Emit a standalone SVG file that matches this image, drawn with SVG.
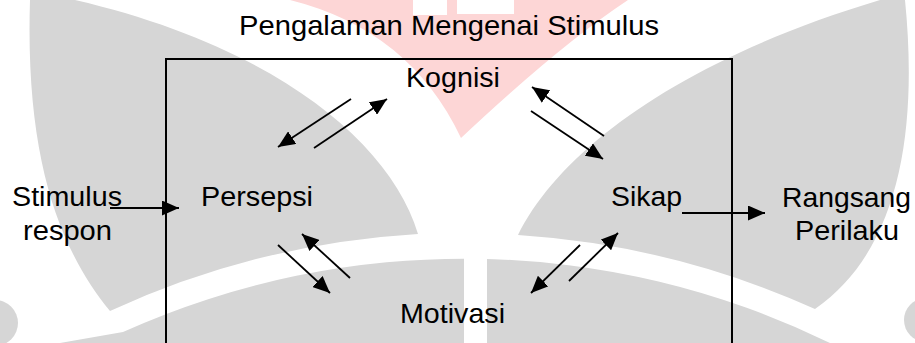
<svg xmlns="http://www.w3.org/2000/svg" width="915" height="343" viewBox="0 0 915 343">
  <defs>
    <style>
      .wm-gray { fill: #d6d6d6; }
      .wm-pink { fill: #fdd6d6; }
      .wm-white { fill: #ffffff; }
      text { font-family: "Liberation Sans", Arial, sans-serif; font-size: 27.5px; fill: #000; }
      .frame { fill: none; stroke: #000; stroke-width: 2; }
      .conn { fill: none; stroke: #000; stroke-width: 1.8; marker-end: url(#arrow); }
    </style>
    <marker id="arrow" markerUnits="userSpaceOnUse" markerWidth="18" markerHeight="15" refX="17" refY="7.5" orient="auto">
      <path d="M0,0 L17,7.5 L0,15 Z" fill="#000"/>
    </marker>
  </defs>

  <rect width="915" height="343" fill="#fff"/>

  <!-- background logo shapes -->
  <g id="watermark">
    <path class="wm-gray" d="M30,0 L75,0 C270,45 390,140 418,234 A858,858 0 0 0 110,311 C60,250 25,160 30,0 Z"/>
    <path class="wm-gray" d="M518,235 C560,150 680,60 880,0 L905,0 C918,130 900,250 815,309 A858,858 0 0 0 518,235 Z"/>
    <path class="wm-gray" d="M60,343 L123,332 A833,833 0 0 1 830,343 Z"/>
    <rect class="wm-white" x="464" y="250" width="23" height="93"/>
    <path class="wm-pink" d="M290,0 L628,0 Q560,45 461,138 Q410,30 290,0 Z"/>
    <rect class="wm-white" x="413" y="0" width="34" height="15"/>
    <rect class="wm-white" x="457" y="0" width="57" height="14"/>
    <circle class="wm-gray" cx="-5" cy="323" r="23"/>
    <circle class="wm-gray" cx="926" cy="320" r="22"/>
  </g>

  <g id="title">
    <text x="239" y="35" textLength="420" lengthAdjust="spacingAndGlyphs">Pengalaman Mengenai Stimulus</text>
  </g>

  <g id="frame">
    <path class="frame" d="M166,346 V59 H732 V346"/>
  </g>

  <g id="kognisi">
    <text x="406" y="87" textLength="94" lengthAdjust="spacingAndGlyphs">Kognisi</text>
  </g>
  <g id="stimulus-respon">
    <text x="12" y="206" textLength="110" lengthAdjust="spacingAndGlyphs">Stimulus</text>
    <text x="23" y="240" textLength="89" lengthAdjust="spacingAndGlyphs">respon</text>
  </g>
  <g id="persepsi">
    <text x="201" y="206" textLength="112" lengthAdjust="spacingAndGlyphs">Persepsi</text>
  </g>
  <g id="sikap">
    <text x="611" y="206" textLength="71" lengthAdjust="spacingAndGlyphs">Sikap</text>
  </g>
  <g id="rangsang-perilaku">
    <text x="782" y="207" textLength="129" lengthAdjust="spacingAndGlyphs">Rangsang</text>
    <text x="795" y="240" textLength="104" lengthAdjust="spacingAndGlyphs">Perilaku</text>
  </g>
  <g id="motivasi">
    <text x="400" y="323" textLength="105" lengthAdjust="spacingAndGlyphs">Motivasi</text>
  </g>

  <g id="connectors">
    <line class="conn" x1="110" y1="208" x2="179" y2="208"/>
    <line class="conn" x1="682" y1="213" x2="765" y2="213"/>
    <line class="conn" x1="351" y1="99" x2="278" y2="147"/>
    <line class="conn" x1="314" y1="148" x2="387" y2="99"/>
    <line class="conn" x1="604" y1="136" x2="532" y2="87"/>
    <line class="conn" x1="531" y1="111" x2="603" y2="159"/>
    <line class="conn" x1="278" y1="245" x2="330" y2="293"/>
    <line class="conn" x1="350" y1="278" x2="302" y2="234"/>
    <line class="conn" x1="580" y1="245" x2="531" y2="293"/>
    <line class="conn" x1="569" y1="281" x2="618" y2="233"/>
  </g>
</svg>
